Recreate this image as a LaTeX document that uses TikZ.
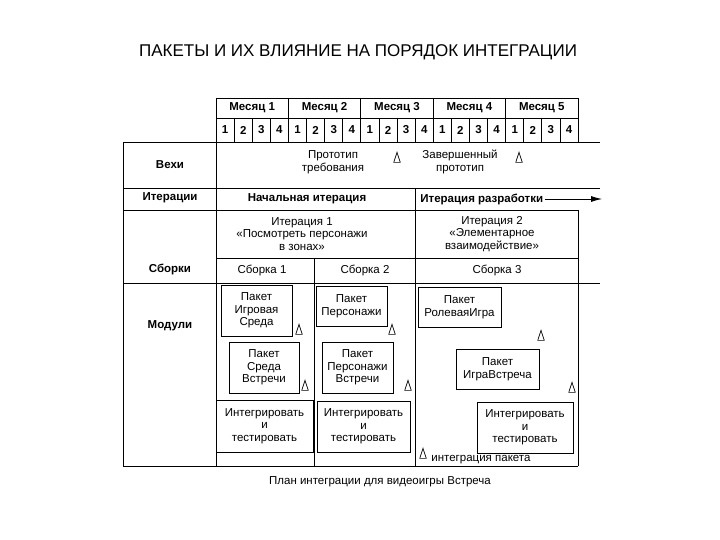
\documentclass[tikz,border=0pt]{standalone}
\usepackage{fontspec}
\setmainfont{Liberation Sans}
\usetikzlibrary{shapes.geometric,arrows.meta}
\begin{document}
\begin{tikzpicture}[x=1pt,y=-1pt,line width=0.8pt,
  every node/.style={font=\fontsize{11.5}{12.5}\selectfont,align=center,inner sep=1pt},
  hd/.style={font=\fontsize{11.5}{12.5}\selectfont\bfseries},
  pk/.style={draw,line width=0.9pt,inner sep=0pt},
  tri/.style={draw,isosceles triangle,isosceles triangle apex angle=36,shape border rotate=90,minimum height=10pt,minimum width=5pt,inner sep=0pt,line width=0.7pt}]
\useasboundingbox (0,0) rectangle (720,540);
\node[font=\fontsize{17}{20}\selectfont] (title) at (358,52) {ПАКЕТЫ И ИХ ВЛИЯНИЕ НА ПОРЯДОК ИНТЕГРАЦИИ};
% header grid
\draw (216,98) rectangle (578,142);
\draw (216,118) -- (578,118);
\foreach \i/\x in {1/216,2/288.4,3/360.8,4/433.2,5/505.6}{
  \draw (\x,98) -- (\x,142);
  \node[hd] (m\i) at (\x+36.2,108) {Месяц \i};
  \foreach \w in {1,2,3,4}{
    \draw (\x+18.1*\w,118) -- (\x+18.1*\w,142);
    \node[hd] (w\i\w) at (\x+18.1*\w-9,130) {\w};
  }}
% table lines
\draw (123,142) -- (600,142);
\draw (123,188) -- (600,188);
\draw (123,210) -- (578,210);
\draw (216,258) -- (578,258);
\draw (123,283) -- (600,283);
\draw (123,142) -- (123,466);
\draw (216,142) -- (216,466);
\draw (415,188) -- (415,466);
\draw (578,210) -- (578,466);
\draw (314,258) -- (314,466);
\draw (123,466) -- (578,466);
% left labels
\node[hd] (lv) at (170,165) {Вехи};
\node[hd] (li) at (170,198) {Итерации};
\node[hd] (ls) at (170,269) {Сборки};
\node[hd] (lm) at (170,326) {Модули};
% milestones
\node (p1) at (333,162) {Прототип\\требования};
\node[tri] (tp1) at (397,160) {};
\node (p2) at (460,162) {Завершенный\\прототип};
\node[tri] (tp2) at (519,160) {};
% iterations
\node[hd] (it0) at (307,199) {Начальная итерация};
\node[hd,anchor=west] (itd) at (419,199) {Итерация разработки};
\coordinate (itend) at (602,199);
\draw[-{Latex[length=11pt,width=6pt]}] (itd.east) -- (itend);
\node (it1) at (302,234) {Итерация 1\\«Посмотреть персонажи\\в зонах»};
\node (it2) at (492,234) {Итерация 2\\«Элементарное\\взаимодействие»};
\node (s1) at (262,270) {Сборка 1};
\node (s2) at (365,270) {Сборка 2};
\node (s3) at (497,270) {Сборка 3};
% packages
\node[pk,minimum width=71pt,minimum height=51pt] (a1) at (256.5,310.5) {Пакет\\Игровая\\Среда};
\node[pk,minimum width=70pt,minimum height=51pt] (a2) at (264,367.5) {Пакет\\Среда\\Встречи};
\node[pk,minimum width=97pt,minimum height=52pt] (a3) at (264.5,426) {Интегрировать\\и\\тестировать};
\node[pk,minimum width=71pt,minimum height=40pt] (b1) at (351.5,306) {Пакет\\Персонажи};
\node[pk,minimum width=71pt,minimum height=51pt] (b2) at (357.5,367.5) {Пакет\\Персонажи\\Встречи};
\node[pk,minimum width=93pt,minimum height=51pt] (b3) at (363.5,426.5) {Интегрировать\\и\\тестировать};
\node[pk,minimum width=83pt,minimum height=40pt] (c1) at (459.5,307) {Пакет\\РолеваяИгра};
\node[pk,minimum width=83pt,minimum height=40pt] (c2) at (497.5,369) {Пакет\\ИграВстреча};
\node[pk,minimum width=96pt,minimum height=51pt] (c3) at (525,427.5) {Интегрировать\\и\\тестировать};
% triangles
\node[tri] (t1) at (299,332) {};
\node[tri] (t2) at (305,388) {};
\node[tri] (t3) at (392,332) {};
\node[tri] (t4) at (408,388) {};
\node[tri] (t5) at (541,338) {};
\node[tri] (t6) at (572,390) {};
\node[tri] (t7) at (423,456) {};
\node[anchor=west] (leg) at (430,460) {интеграция пакета};
\node (cap) at (380,482) {План интеграции для видеоигры Встреча};
\end{tikzpicture}
\end{document}
